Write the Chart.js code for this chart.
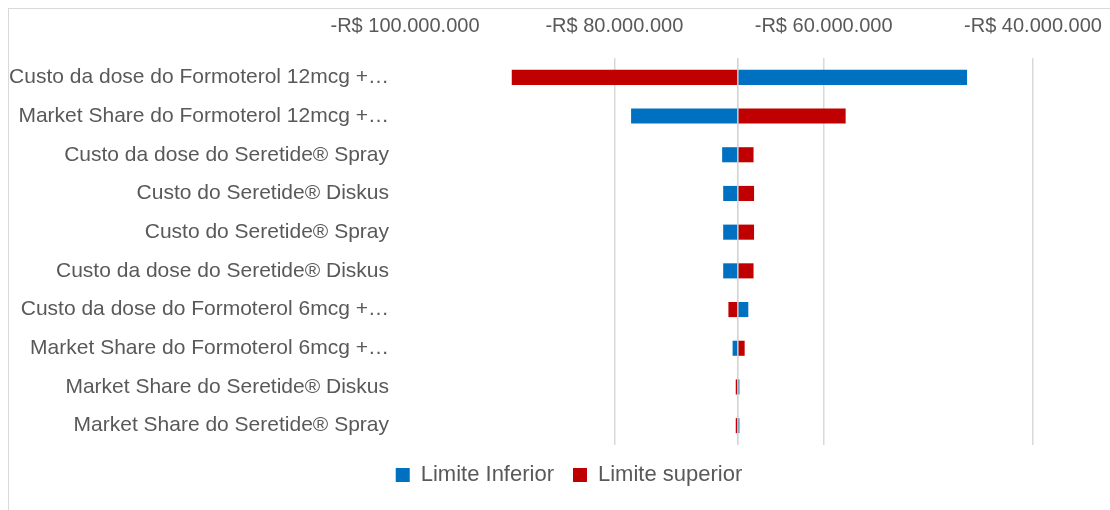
<!DOCTYPE html>
<html>
<head>
<meta charset="utf-8">
<script src="https://cdn.jsdelivr.net/npm/chart.js@4/dist/chart.umd.min.js"></script>
<style>
  body { margin: 0; background: #fff; overflow: hidden; }
  #moldura { position: absolute; left: 8px; top: 8px; width: 1200px; height: 600px; border: 1px solid #d9d9d9; }
  #grafico { position: absolute; left: 0; top: 0; }
</style>
</head>
<body>
<div id="moldura"></div>
<canvas id="grafico" width="1110" height="510"></canvas>
<script>
// Parâmetros da análise de sensibilidade (eixo vertical)
const parametros = [
    'Custo da dose do Formoterol 12mcg +…',
    'Market Share do Formoterol 12mcg +…',
    'Custo da dose do Seretide® Spray',
    'Custo do Seretide® Diskus',
    'Custo do Seretide® Spray',
    'Custo da dose do Seretide® Diskus',
    'Custo da dose do Formoterol 6mcg +…',
    'Market Share do Formoterol 6mcg +…',
    'Market Share do Seretide® Diskus',
    'Market Share do Seretide® Spray'
];

// Caso base (onde o eixo vertical cruza)
const valorBase = -68200000;

// Resultado com cada parâmetro no limite inferior / superior
const limiteInferior = [-46300000, -78400000, -69700000, -69600000, -69600000, -69600000, -67200000, -68700000, -68050000, -68050000];
const limiteSuperior = [-89800000, -57900000, -66700000, -66650000, -66650000, -66700000, -69100000, -67550000, -68400000, -68400000];

// Escala do eixo horizontal
const ticksX = [-100000000, -80000000, -60000000, -40000000];

const corTexto = '#595959';
const fonte = '"Liberation Sans", Arial, sans-serif';

// Formata no padrão -R$ 100.000.000
function formataReal(v) {
    const s = Math.abs(v).toString().replace(/\B(?=(\d{3})+(?!\d))/g, '.');
    return (v < 0 ? '-' : '') + 'R$ ' + s;
}

// Linha do eixo vertical no valor base
const linhaBase = {
    id: 'linhaBase',
    afterDatasetsDraw(chart) {
        const { ctx, chartArea, scales } = chart;
        const x = scales.x.getPixelForValue(valorBase);
        ctx.save();
        ctx.strokeStyle = '#d0d0d0';
        ctx.lineWidth = 1.5;
        ctx.beginPath();
        ctx.moveTo(x, chartArea.top);
        ctx.lineTo(x, chartArea.bottom);
        ctx.stroke();
        ctx.restore();
    }
};

// A legenda fica centralizada na moldura inteira do gráfico (mais larga que a janela)
const centroLegenda = 569;
const moveLegenda = {
    id: 'moveLegenda',
    beforeDraw(chart) {
        const l = chart.legend;
        const d = centroLegenda - (l.left + l.right) / 2;
        l.left += d;
        l.right += d;
    }
};

let ctx = document.getElementById('grafico').getContext('2d');
let grafico = new Chart(ctx, {
    type: 'bar',
    data: {
        labels: parametros,
        datasets: [{
            label: 'Limite Inferior',
            data: limiteInferior.map(v => [valorBase, v]),
            backgroundColor: '#0070C0',
            grouped: false,
            barPercentage: 0.39,
            categoryPercentage: 1
        }, {
            label: 'Limite superior',
            data: limiteSuperior.map(v => [valorBase, v]),
            backgroundColor: '#C00000',
            grouped: false,
            barPercentage: 0.39,
            categoryPercentage: 1
        }]
    },
    options: {
        indexAxis: 'y',
        responsive: false,
        animation: false,
        layout: { padding: { left: 8, right: 77, top: 8, bottom: 14 } },
        plugins: {
            legend: {
                position: 'bottom',
                labels: {
                    boxWidth: 14,
                    boxHeight: 14,
                    padding: 19,
                    color: corTexto,
                    font: { family: fonte, size: 22 }
                }
            },
            tooltip: { enabled: false }
        },
        scales: {
            x: {
                position: 'top',
                min: ticksX[0],
                max: ticksX[ticksX.length - 1],
                ticks: {
                    stepSize: 20000000,
                    padding: 20,
                    color: corTexto,
                    font: { family: fonte, size: 20 },
                    callback: v => formataReal(v)
                },
                grid: {
                    drawTicks: false,
                    lineWidth: 1.5,
                    color: c => c.index === 0 ? 'rgba(0,0,0,0)' : '#d9d9d9'
                },
                border: { display: false },
                afterFit: s => {
                    s.height = 50;
                    s.paddingLeft = 0;
                    s.paddingRight = 0;
                }
            },
            y: {
                ticks: {
                    autoSkip: false,
                    padding: 16,
                    color: corTexto,
                    font: { family: fonte, size: 21 }
                },
                grid: { display: false, drawTicks: false },
                border: { display: false },
                afterFit: s => { s.width = 397; }
            }
        }
    },
    plugins: [linhaBase, moveLegenda]
});
</script>
</body>
</html>
